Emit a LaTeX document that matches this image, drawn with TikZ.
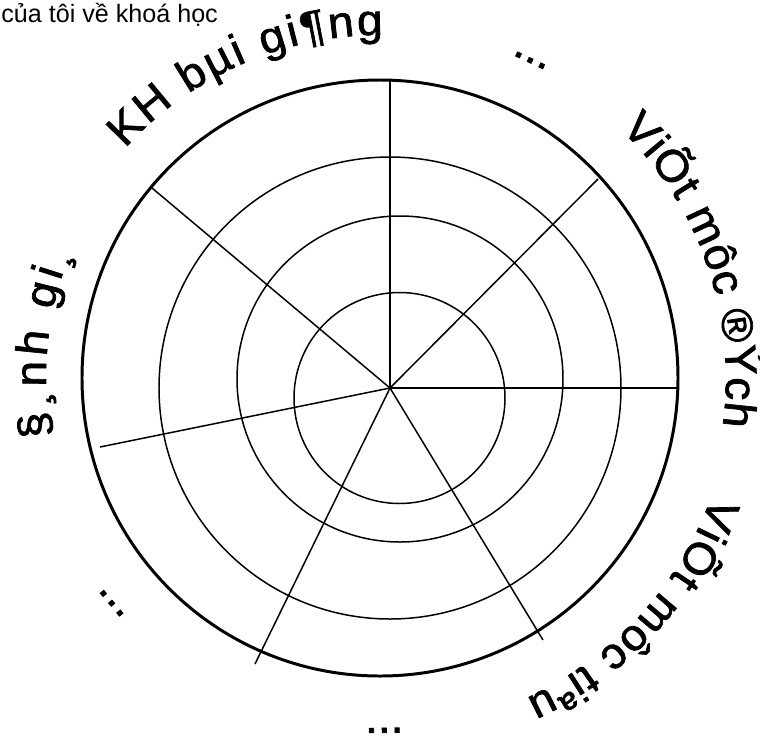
\documentclass[tikz,border=0pt]{standalone}
\usepackage{fontspec}
\setmainfont{Liberation Sans}
\newfontfamily\arcfont[FakeStretch=1.05, FakeBold=1.6]{Liberation Sans}
\usetikzlibrary{decorations.text}

\begin{document}
\begin{tikzpicture}[
  x=0.02cm, y=0.02cm,
  rim/.style={draw=black, line width=1.7pt},
  ring/.style={draw=black, line width=0.85pt},
  spoke/.style={draw=black, line width=0.85pt},
  arclabel/.style={decorate, decoration={text along path, text align=fit to path,
    text={|\arcfont\fontsize{25}{30}\selectfont|#1}}},
  dots/.style={font=\arcfont\fontsize{25}{30}\selectfont, inner sep=0pt, anchor=base}
]
  \useasboundingbox (-380,378) rectangle (380,-360);

  \node[anchor=base west, inner sep=0pt, font=\fontsize{14.3}{17}\selectfont] (title) at (-379,356)
    {của tôi về khoá học};

  % rings
  \draw[ring] (19.5,-20) circle[radius=105.5];
  \draw[ring] (20,-1) circle[radius=163];
  \draw[ring] (10,-10) circle[radius=231];
  \draw[rim] (0,0) circle[radius=298];

  % spokes
  \coordinate (hub) at (10,-10);
  \draw[spoke] (hub) -- (10,298);
  \draw[spoke] (hub) -- (218,199);
  \draw[spoke] (hub) -- (297,-10);
  \draw[spoke] (hub) -- (163,-262);
  \draw[spoke] (hub) -- (-125,-286);
  \draw[spoke] (hub) -- (-280,-69);
  \draw[spoke] (hub) -- (-228,190);

  % labels round the rim
  \path[arclabel={KH bµi gi¶ng}] (138:343) arc[start angle=138, end angle=89.5, radius=343];
  \path[arclabel={ViÕt môc ®Ých}] (46:346) arc[start angle=46, end angle=-8, radius=346];
  \path[arclabel={ViÕt môc tiªu}] (-19.5:352) arc[start angle=-19.5, end angle=-65.5, radius=352];
  \path[arclabel={§¸nh gi¸}] (190:334) arc[start angle=190, end angle=158, radius=334];

  \node[dots, rotate=-25.3] (dotsne) at (64.7:349) {...};
  \node[dots, rotate=130] (dotssw) at (220:348) {...};
  \node[dots, rotate=-179.3] (dotss) at (-89.3:350) {...};
\end{tikzpicture}
\end{document}
